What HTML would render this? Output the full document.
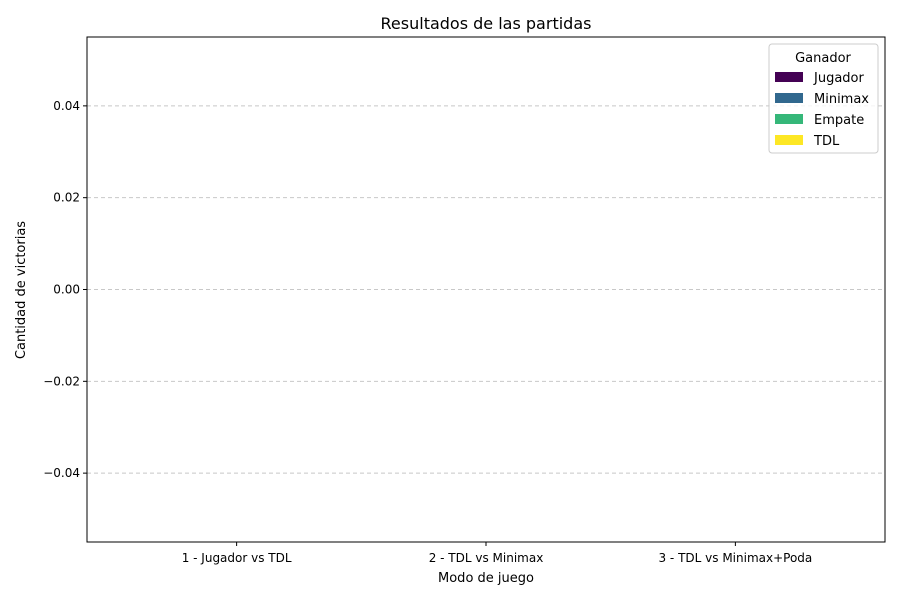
<!DOCTYPE html>
<html><head><meta charset="utf-8"><style>
body{margin:0;background:#fff;font-family:"Liberation Sans","DejaVu Sans",sans-serif;}
svg text{font-family:"DejaVu Sans","Liberation Sans",sans-serif;}
</style></head><body>
<svg id="chart" width="900" height="600" xmlns="http://www.w3.org/2000/svg">
<rect width="900" height="600" fill="#fff"/>
<g id="grid"></g>
<g id="bars"></g>
<rect x="87" y="37" width="798" height="505" fill="none" stroke="#000" stroke-width="1"/>
<g id="yaxis"></g>
<g id="xaxis"></g>
<text x="486" y="29" font-size="16" text-anchor="middle">Resultados de las partidas</text>
<text x="486" y="582" font-size="13" text-anchor="middle">Modo de juego</text>
<text x="25" y="290" font-size="13" text-anchor="middle" transform="rotate(-90 25 290)">Cantidad de victorias</text>
<g id="legend">
<rect x="769" y="44" width="109" height="109" rx="3" fill="#fff" fill-opacity="0.8" stroke="#ccc"/>
<text x="823" y="62" font-size="13" text-anchor="middle">Ganador</text>
</g>
</svg>
<script>
const categories = ["1 - Jugador vs TDL","2 - TDL vs Minimax","3 - TDL vs Minimax+Poda"];
const seriesNames = ["Jugador","Minimax","Empate","TDL"];
const jugador = [0,0,0];
const minimax = [0,0,0];
const empate = [0,0,0];
const tdl = [0,0,0];
const yTicks = [-0.04,-0.02,0.00,0.02,0.04];
const yTickLabels = ["\u22120.04","\u22120.02","0.00","0.02","0.04"];
const colors = ["#440154","#31688e","#35b779","#fde725"];
const NS="http://www.w3.org/2000/svg";
const pL=87,pR=885,pT=37,pB=542,yMin=-0.055,yMax=0.055,xMin=-0.6,xMax=2.6;
const y=v=>pB-(v-yMin)/(yMax-yMin)*(pB-pT);
const x=i=>pL+(i-xMin)/(xMax-xMin)*(pR-pL);
const band=x(1)-x(0);
function mk(t,a,p){const e=document.createElementNS(NS,t);for(const k in a)e.setAttribute(k,a[k]);p.appendChild(e);return e;}
const grid=document.getElementById('grid'),ya=document.getElementById('yaxis'),xa=document.getElementById('xaxis'),bars=document.getElementById('bars'),lg=document.getElementById('legend');
yTicks.forEach((v,i)=>{
 const g=mk('line',{x1:pL,x2:pR,y1:y(v),y2:y(v),stroke:'#b0b0b0','stroke-dasharray':'4,3','stroke-opacity':0.7},grid);
 
 
 const t=mk('line',{x1:pL-4,x2:pL,y1:y(v),y2:y(v),stroke:'#000'},ya);
 
 
 const l=mk('text',{x:pL-7,y:y(v)+4,'font-size':12,'text-anchor':'end'},ya);
 l.textContent=yTickLabels[i];
 
 
});
categories.forEach((c,i)=>{
 const t=mk('line',{x1:x(i),x2:x(i),y1:pB,y2:pB+4,stroke:'#000'},xa);
 
 
 const l=mk('text',{x:x(i),y:pB+20,'font-size':12,'text-anchor':'middle'},xa);
 l.textContent=c;
 
 
});
const series=[jugador,minimax,empate,tdl];
categories.forEach((c,i)=>{
 let base=0;
 series.forEach((s,j)=>{
  const v=s[i];
  const y0=y(base),y1=y(base+v);
  const r=mk('rect',{x:x(i)-band*0.4,width:band*0.8,y:Math.min(y0,y1),height:Math.abs(y0-y1),fill:colors[j]},bars);
  
  
  base+=v;
 });
});
seriesNames.forEach((n,j)=>{
 const yy=77+j*21;
 const r=mk('rect',{x:775,y:yy-5,width:28,height:10,fill:colors[j]},lg);
 
 
 const t=mk('text',{x:814,y:yy+5,'font-size':13},lg);
 t.textContent=n;
 
 
});
</script>
</body></html>
